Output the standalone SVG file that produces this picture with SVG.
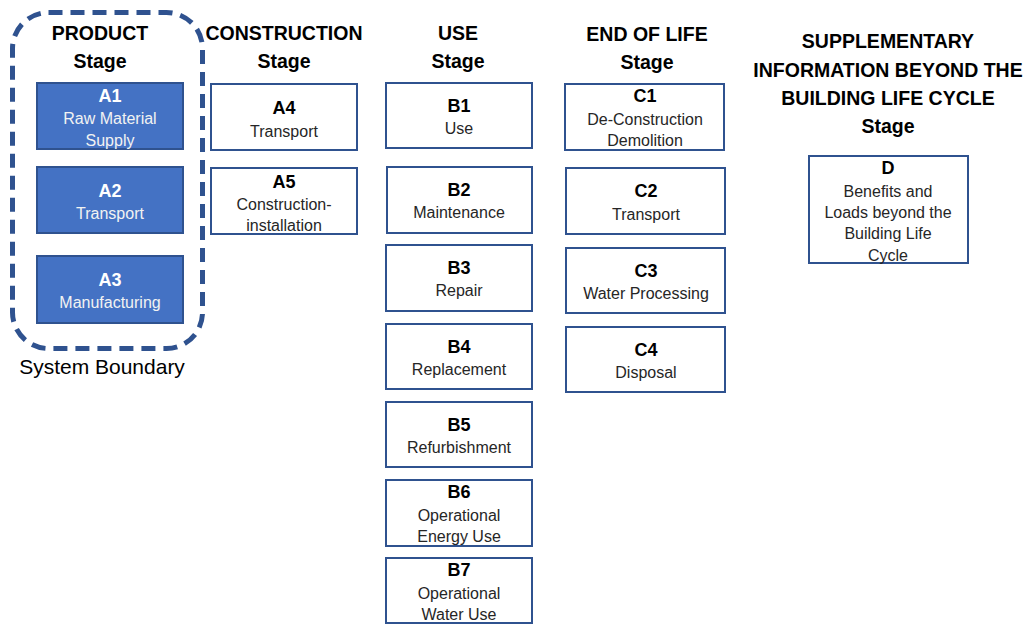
<svg xmlns="http://www.w3.org/2000/svg" width="1030" height="624" viewBox="0 0 1030 624">
<style>
  .bg{fill:#ffffff}
  .head{font-family:"Liberation Sans",Arial,sans-serif;font-weight:bold;font-size:19.5px;fill:#000;text-anchor:middle}
  .box{fill:#ffffff;stroke:#2F528F;stroke-width:2}
  .fbox{fill:#4472C4;stroke:#2F528F;stroke-width:2}
  .id{font-family:"Liberation Sans",Arial,sans-serif;font-weight:bold;font-size:18px;fill:#000;text-anchor:middle}
  .sub{font-family:"Liberation Sans",Arial,sans-serif;font-size:16px;fill:#262626;text-anchor:middle}
  .idw{font-family:"Liberation Sans",Arial,sans-serif;font-weight:bold;font-size:18px;fill:#fff;text-anchor:middle}
  .subw{font-family:"Liberation Sans",Arial,sans-serif;font-size:16px;fill:#f2f2f2;text-anchor:middle}
  .boundary{fill:none;stroke:#2F528F;stroke-width:5;stroke-dasharray:14 8}
  .lbl{font-family:"Liberation Sans",Arial,sans-serif;font-size:21px;fill:#000;text-anchor:middle}
</style>
<rect class="bg" x="0" y="0" width="1030" height="624"/>

<g id="boundary">
  <rect class="boundary" x="12.5" y="12.5" width="190" height="336" rx="36"/>
  <text class="lbl" x="102" y="374">System Boundary</text>
</g>

<g id="headers">
  <text class="head" x="100" y="40">PRODUCT</text>
  <text class="head" x="100" y="68">Stage</text>
  <text class="head" x="284" y="40">CONSTRUCTION</text>
  <text class="head" x="284" y="68">Stage</text>
  <text class="head" x="458" y="40">USE</text>
  <text class="head" x="458" y="68">Stage</text>
  <text class="head" x="647" y="41">END OF LIFE</text>
  <text class="head" x="647" y="69">Stage</text>
  <text class="head" x="888" y="48">SUPPLEMENTARY</text>
  <text class="head" x="888" y="77">INFORMATION BEYOND THE</text>
  <text class="head" x="888" y="105">BUILDING LIFE CYCLE</text>
  <text class="head" x="888" y="133">Stage</text>
</g>

<g id="A1"><rect class="fbox" x="37" y="83" width="146" height="66"/>
  <text class="idw" x="110" y="102">A1</text><text class="subw" x="110" y="124">Raw Material</text><text class="subw" x="110" y="146">Supply</text></g>
<g id="A2"><rect class="fbox" x="37" y="167" width="146" height="66"/>
  <text class="idw" x="110" y="197">A2</text><text class="subw" x="110" y="219">Transport</text></g>
<g id="A3"><rect class="fbox" x="37" y="256" width="146" height="67"/>
  <text class="idw" x="110" y="286">A3</text><text class="subw" x="110" y="308">Manufacturing</text></g>

<g id="A4"><rect class="box" x="211" y="84" width="146" height="66"/>
  <text class="id" x="284" y="114">A4</text><text class="sub" x="284" y="137">Transport</text></g>
<g id="A5"><rect class="box" x="211" y="168" width="146" height="66"/>
  <text class="id" x="284" y="188">A5</text><text class="sub" x="284" y="210">Construction-</text><text class="sub" x="284" y="231">installation</text></g>

<g id="B1"><rect class="box" x="386" y="83" width="146" height="65"/>
  <text class="id" x="459" y="112">B1</text><text class="sub" x="459" y="134">Use</text></g>
<g id="B2"><rect class="box" x="387" y="167" width="145" height="66"/>
  <text class="id" x="459" y="196">B2</text><text class="sub" x="459" y="218">Maintenance</text></g>
<g id="B3"><rect class="box" x="386" y="245" width="146" height="66"/>
  <text class="id" x="459" y="274">B3</text><text class="sub" x="459" y="296">Repair</text></g>
<g id="B4"><rect class="box" x="386" y="324" width="146" height="65"/>
  <text class="id" x="459" y="353">B4</text><text class="sub" x="459" y="375">Replacement</text></g>
<g id="B5"><rect class="box" x="386" y="402" width="146" height="65"/>
  <text class="id" x="459" y="431">B5</text><text class="sub" x="459" y="453">Refurbishment</text></g>
<g id="B6"><rect class="box" x="386" y="480" width="146" height="66"/>
  <text class="id" x="459" y="498">B6</text><text class="sub" x="459" y="521">Operational</text><text class="sub" x="459" y="542">Energy Use</text></g>
<g id="B7"><rect class="box" x="386" y="558" width="146" height="65"/>
  <text class="id" x="459" y="576">B7</text><text class="sub" x="459" y="599">Operational</text><text class="sub" x="459" y="620">Water Use</text></g>

<g id="C1"><rect class="box" x="565" y="84" width="159" height="66"/>
  <text class="id" x="645" y="102">C1</text><text class="sub" x="645" y="125">De-Construction</text><text class="sub" x="645" y="146">Demolition</text></g>
<g id="C2"><rect class="box" x="566" y="168" width="159" height="66"/>
  <text class="id" x="646" y="197">C2</text><text class="sub" x="646" y="220">Transport</text></g>
<g id="C3"><rect class="box" x="566" y="248" width="159" height="65"/>
  <text class="id" x="646" y="277">C3</text><text class="sub" x="646" y="299">Water Processing</text></g>
<g id="C4"><rect class="box" x="566" y="327" width="159" height="65"/>
  <text class="id" x="646" y="356">C4</text><text class="sub" x="646" y="378">Disposal</text></g>

<g id="D"><rect class="box" x="809" y="156" width="159" height="107"/>
  <text class="id" x="888" y="174">D</text><text class="sub" x="888" y="197">Benefits and</text><text class="sub" x="888" y="218">Loads beyond the</text><text class="sub" x="888" y="239">Building Life</text><text class="sub" x="888" y="261">Cycle</text></g>

<g id="connectors"></g>
</svg>
